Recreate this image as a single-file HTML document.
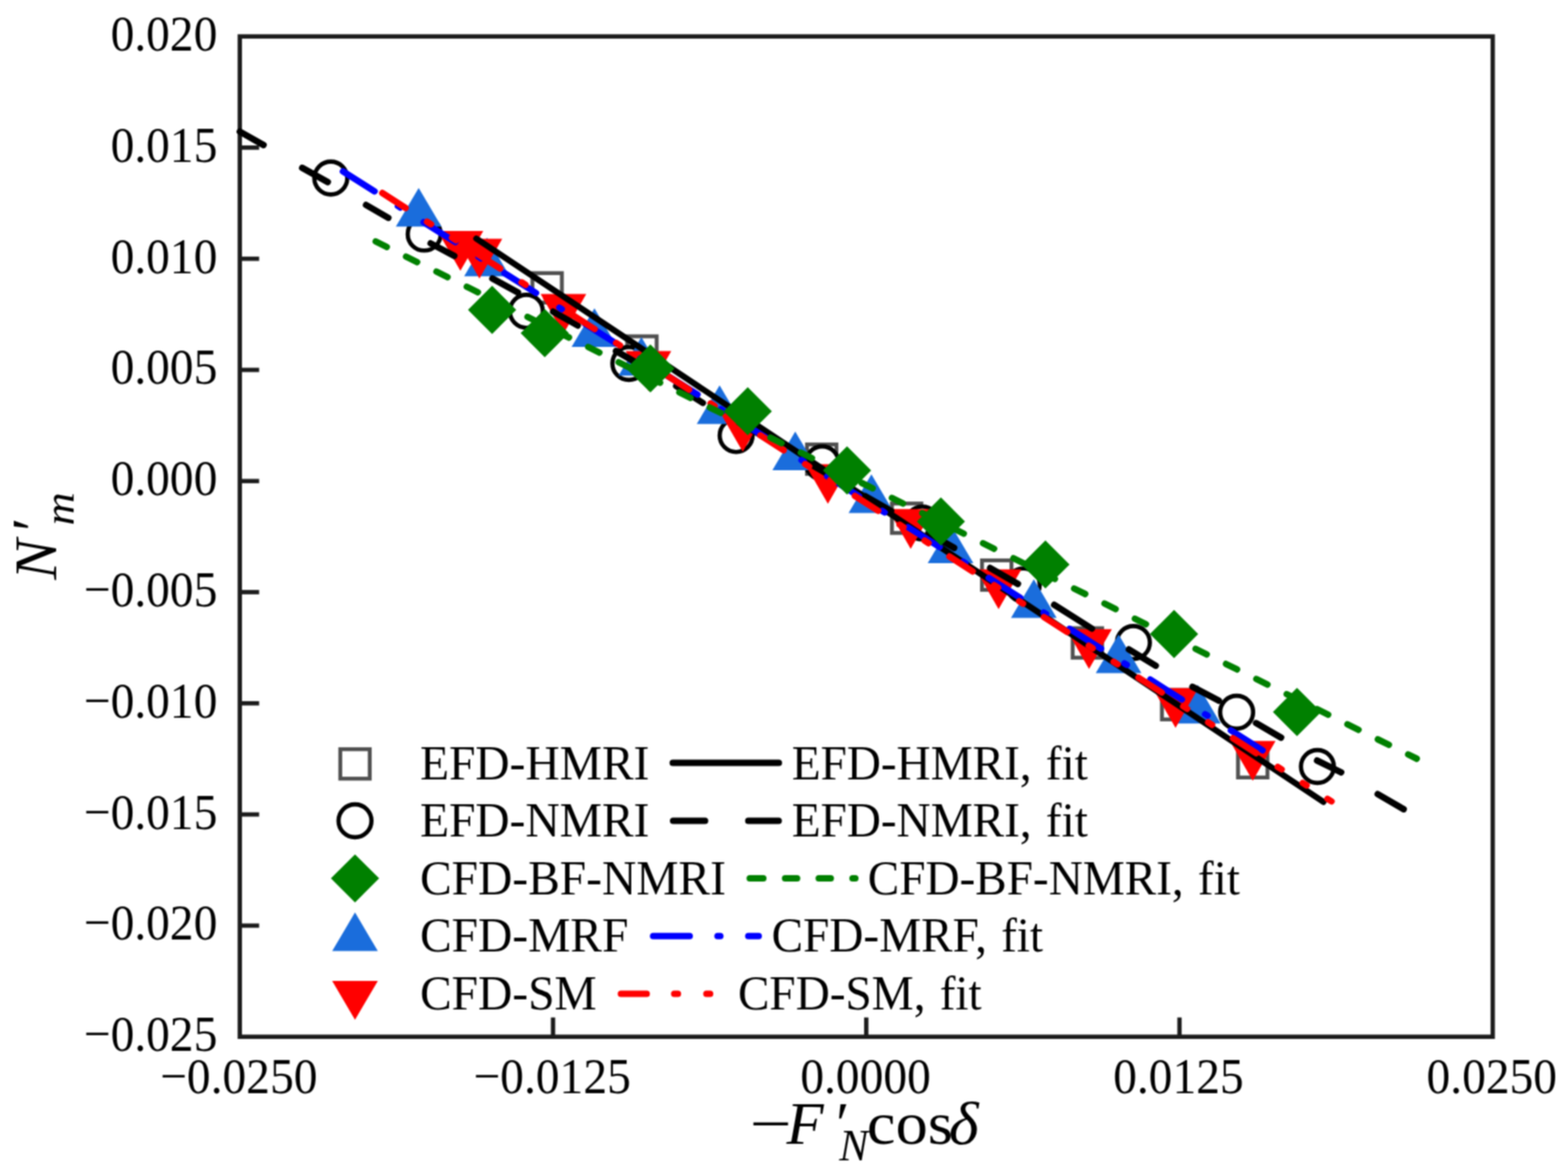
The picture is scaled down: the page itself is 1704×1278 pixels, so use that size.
<!DOCTYPE html>
<html lang="en">
<head>
<meta charset="utf-8">
<title>N'm versus -F'N cos(delta)</title>
<style>
html,body{margin:0;padding:0;background:#fff;}
body{width:1704px;height:1278px;overflow:hidden;}
svg{display:block;}
</style>
</head>
<body>
<svg width="1704" height="1278" viewBox="0 0 1704 1278" role="img" aria-label="Scatter plot of N prime m versus minus F prime N cos delta with linear fits">
<defs><filter id="soft" x="0" y="0" width="1704" height="1278" filterUnits="userSpaceOnUse" color-interpolation-filters="sRGB"><feConvolveMatrix order="3" kernelMatrix="1 2 1 2 4 2 1 2 1" divisor="16" edgeMode="duplicate" preserveAlpha="true"/></filter></defs>
<g filter="url(#soft)">
<rect width="1704" height="1278" fill="#fff"/>
<g stroke="#1c1c1c" stroke-width="4.7" fill="none">
<rect x="260.6" y="39.6" width="1361.6" height="1087.1"/>
<line x1="260.6" y1="160.4" x2="281.6" y2="160.4"/>
<line x1="260.6" y1="281.2" x2="281.6" y2="281.2"/>
<line x1="260.6" y1="402.0" x2="281.6" y2="402.0"/>
<line x1="260.6" y1="522.8" x2="281.6" y2="522.8"/>
<line x1="260.6" y1="643.5" x2="281.6" y2="643.5"/>
<line x1="260.6" y1="764.3" x2="281.6" y2="764.3"/>
<line x1="260.6" y1="885.1" x2="281.6" y2="885.1"/>
<line x1="260.6" y1="1005.9" x2="281.6" y2="1005.9"/>
<line x1="601.0" y1="1126.7" x2="601.0" y2="1105.7"/>
<line x1="941.4" y1="1126.7" x2="941.4" y2="1105.7"/>
<line x1="1281.8" y1="1126.7" x2="1281.8" y2="1105.7"/>
</g>
<g font-family="'Liberation Serif', 'DejaVu Serif', serif" font-size="51.6" fill="#000">
<text x="236.2" y="0" transform="translate(0 55.0) scale(1 1.075)" text-anchor="end">0.020</text>
<text x="236.2" y="0" transform="translate(0 175.8) scale(1 1.075)" text-anchor="end">0.015</text>
<text x="236.2" y="0" transform="translate(0 296.6) scale(1 1.075)" text-anchor="end">0.010</text>
<text x="236.2" y="0" transform="translate(0 417.4) scale(1 1.075)" text-anchor="end">0.005</text>
<text x="236.2" y="0" transform="translate(0 538.2) scale(1 1.075)" text-anchor="end">0.000</text>
<text x="236.2" y="0" transform="translate(0 658.9) scale(1 1.075)" text-anchor="end">−0.005</text>
<text x="236.2" y="0" transform="translate(0 779.7) scale(1 1.075)" text-anchor="end">−0.010</text>
<text x="236.2" y="0" transform="translate(0 900.5) scale(1 1.075)" text-anchor="end">−0.015</text>
<text x="236.2" y="0" transform="translate(0 1021.3) scale(1 1.075)" text-anchor="end">−0.020</text>
<text x="236.2" y="0" transform="translate(0 1142.1) scale(1 1.075)" text-anchor="end">−0.025</text>
<text x="259.5" y="0" transform="translate(0 1188.0) scale(1 1.075)" text-anchor="middle">−0.0250</text>
<text x="600.0" y="0" transform="translate(0 1188.0) scale(1 1.075)" text-anchor="middle">−0.0125</text>
<text x="940.6" y="0" transform="translate(0 1188.0) scale(1 1.075)" text-anchor="middle">0.0000</text>
<text x="1280.6" y="0" transform="translate(0 1188.0) scale(1 1.075)" text-anchor="middle">0.0125</text>
<text x="1621.2" y="0" transform="translate(0 1188.0) scale(1 1.075)" text-anchor="middle">0.0250</text>
</g>
<rect x="578.6" y="296.8" width="32.0" height="32.0" fill="none" stroke="#505050" stroke-width="4.2"/>
<rect x="681.6" y="365.5" width="32.0" height="32.0" fill="none" stroke="#505050" stroke-width="4.2"/>
<rect x="877.0" y="483.0" width="32.0" height="32.0" fill="none" stroke="#505050" stroke-width="4.2"/>
<rect x="969.3" y="547.2" width="32.0" height="32.0" fill="none" stroke="#505050" stroke-width="4.2"/>
<rect x="1067.2" y="609.0" width="32.0" height="32.0" fill="none" stroke="#505050" stroke-width="4.2"/>
<rect x="1165.7" y="682.7" width="32.0" height="32.0" fill="none" stroke="#505050" stroke-width="4.2"/>
<rect x="1262.7" y="749.8" width="32.0" height="32.0" fill="none" stroke="#505050" stroke-width="4.2"/>
<rect x="1345.4" y="812.9" width="32.0" height="32.0" fill="none" stroke="#505050" stroke-width="4.2"/>
<circle cx="359.5" cy="193.5" r="17.9" fill="#fff" stroke="#000" stroke-width="4.6"/>
<circle cx="461.0" cy="254.4" r="17.9" fill="#fff" stroke="#000" stroke-width="4.6"/>
<circle cx="572.0" cy="338.3" r="17.9" fill="#fff" stroke="#000" stroke-width="4.6"/>
<circle cx="683.4" cy="395.0" r="17.9" fill="#fff" stroke="#000" stroke-width="4.6"/>
<circle cx="800.0" cy="473.3" r="17.9" fill="#fff" stroke="#000" stroke-width="4.6"/>
<circle cx="893.5" cy="503.0" r="17.9" fill="#fff" stroke="#000" stroke-width="4.6"/>
<circle cx="1002.4" cy="568.4" r="17.9" fill="#fff" stroke="#000" stroke-width="4.6"/>
<circle cx="1112.0" cy="635.6" r="17.9" fill="#fff" stroke="#000" stroke-width="4.6"/>
<circle cx="1231.7" cy="698.3" r="17.9" fill="#fff" stroke="#000" stroke-width="4.6"/>
<circle cx="1343.9" cy="774.0" r="17.9" fill="#fff" stroke="#000" stroke-width="4.6"/>
<circle cx="1431.7" cy="833.0" r="17.9" fill="#fff" stroke="#000" stroke-width="4.6"/>
<path d="M455.0 204.2L479.8 246.2L430.2 246.2Z" fill="#1a6ddc"/>
<path d="M529.2 258.2L554.0 300.2L504.4 300.2Z" fill="#1a6ddc"/>
<path d="M646.0 335.0L670.8 377.0L621.2 377.0Z" fill="#1a6ddc"/>
<path d="M697.0 366.2L721.8 408.2L672.2 408.2Z" fill="#1a6ddc"/>
<path d="M782.0 418.7L806.8 460.7L757.2 460.7Z" fill="#1a6ddc"/>
<path d="M864.2 469.0L889.0 511.0L839.4 511.0Z" fill="#1a6ddc"/>
<path d="M947.0 515.6L971.8 557.6L922.2 557.6Z" fill="#1a6ddc"/>
<path d="M1033.0 570.0L1057.8 612.0L1008.2 612.0Z" fill="#1a6ddc"/>
<path d="M1123.5 629.6L1148.3 671.6L1098.7 671.6Z" fill="#1a6ddc"/>
<path d="M1215.6 689.4L1240.4 731.4L1190.8 731.4Z" fill="#1a6ddc"/>
<path d="M1301.7 744.2L1326.5 786.2L1276.9 786.2Z" fill="#1a6ddc"/>
<path d="M500.3 294.3L525.1 251.1L475.5 251.1Z" fill="#ff0000"/>
<path d="M521.0 302.7L545.8 259.5L496.2 259.5Z" fill="#ff0000"/>
<path d="M612.3 362.8L637.1 319.6L587.5 319.6Z" fill="#ff0000"/>
<path d="M704.7 424.8L729.5 381.6L679.9 381.6Z" fill="#ff0000"/>
<path d="M807.2 491.1L832.0 447.9L782.4 447.9Z" fill="#ff0000"/>
<path d="M899.7 547.6L924.5 504.4L874.9 504.4Z" fill="#ff0000"/>
<path d="M989.7 596.5L1014.5 553.3L964.9 553.3Z" fill="#ff0000"/>
<path d="M1085.2 662.0L1110.0 618.8L1060.4 618.8Z" fill="#ff0000"/>
<path d="M1183.5 727.0L1208.3 683.8L1158.7 683.8Z" fill="#ff0000"/>
<path d="M1277.5 791.0L1302.3 747.8L1252.7 747.8Z" fill="#ff0000"/>
<path d="M1361.4 848.4L1386.2 805.2L1336.6 805.2Z" fill="#ff0000"/>
<line x1="517.6" y1="259.3" x2="1438.3" y2="871.4" stroke="#000" stroke-width="6.6" stroke-linecap="round"/>
<line x1="260.6" y1="143.0" x2="286.4" y2="157.6" stroke="#000" stroke-width="7.0" stroke-linecap="round"/>
<line x1="328.4" y1="182.4" x2="356.2" y2="197.9" stroke="#000" stroke-width="7.0" stroke-linecap="round"/>
<line x1="397.8" y1="222.7" x2="422.0" y2="236.7" stroke="#000" stroke-width="7.0" stroke-linecap="round"/>
<line x1="468.0" y1="264.5" x2="493.7" y2="278.2" stroke="#000" stroke-width="7.0" stroke-linecap="round"/>
<line x1="535.1" y1="302.7" x2="562.9" y2="317.8" stroke="#000" stroke-width="7.0" stroke-linecap="round"/>
<line x1="601.1" y1="338.7" x2="627.9" y2="353.8" stroke="#000" stroke-width="7.0" stroke-linecap="round"/>
<line x1="669.4" y1="381.4" x2="697.4" y2="397.6" stroke="#000" stroke-width="7.0" stroke-linecap="round"/>
<line x1="734.9" y1="419.5" x2="763.8" y2="437.9" stroke="#000" stroke-width="7.0" stroke-linecap="round"/>
<line x1="803.4" y1="459.3" x2="831.4" y2="475.5" stroke="#000" stroke-width="7.0" stroke-linecap="round"/>
<line x1="871.9" y1="499.3" x2="899.9" y2="515.5" stroke="#000" stroke-width="7.0" stroke-linecap="round"/>
<line x1="940.4" y1="539.2" x2="968.4" y2="555.4" stroke="#000" stroke-width="7.0" stroke-linecap="round"/>
<line x1="1008.9" y1="579.2" x2="1036.9" y2="595.4" stroke="#000" stroke-width="7.0" stroke-linecap="round"/>
<line x1="1076.0" y1="617.2" x2="1106.2" y2="634.6" stroke="#000" stroke-width="7.0" stroke-linecap="round"/>
<line x1="1145.6" y1="657.3" x2="1186.6" y2="683.1" stroke="#000" stroke-width="7.0" stroke-linecap="round"/>
<line x1="1226.8" y1="705.8" x2="1256.0" y2="723.4" stroke="#000" stroke-width="7.0" stroke-linecap="round"/>
<line x1="1295.9" y1="746.4" x2="1324.5" y2="761.4" stroke="#000" stroke-width="7.0" stroke-linecap="round"/>
<line x1="1365.0" y1="785.8" x2="1392.2" y2="801.6" stroke="#000" stroke-width="7.0" stroke-linecap="round"/>
<line x1="1431.3" y1="826.5" x2="1457.5" y2="839.3" stroke="#000" stroke-width="7.0" stroke-linecap="round"/>
<line x1="1497.2" y1="863.0" x2="1525.4" y2="879.4" stroke="#000" stroke-width="7.0" stroke-linecap="round"/>
<line x1="372.7" y1="186.3" x2="1373.5" y2="816.3" stroke="#0000ff" stroke-width="7.0" stroke-linecap="round" stroke-dasharray="40.6 30 3 30.06" stroke-dashoffset="0"/>
<line x1="415.5" y1="209.8" x2="1447.0" y2="870.9" stroke="#ff0000" stroke-width="7.0" stroke-linecap="round" stroke-dasharray="30 27.8 5 27.2 5 27" stroke-dashoffset="0"/>
<path d="M534.8 310.6L561.0 336.8L534.8 363.0L508.6 336.8Z" fill="#008000"/>
<path d="M592.0 335.8L618.2 362.0L592.0 388.2L565.8 362.0Z" fill="#008000"/>
<path d="M706.8 374.2L733.0 400.4L706.8 426.6L680.6 400.4Z" fill="#008000"/>
<path d="M812.6 420.7L838.8 446.9L812.6 473.1L786.4 446.9Z" fill="#008000"/>
<path d="M920.5 485.0L946.7 511.2L920.5 537.4L894.3 511.2Z" fill="#008000"/>
<path d="M1022.5 540.5L1048.7 566.7L1022.5 592.9L996.3 566.7Z" fill="#008000"/>
<path d="M1136.1 587.2L1162.3 613.4L1136.1 639.6L1109.9 613.4Z" fill="#008000"/>
<path d="M1275.9 662.8L1302.1 689.0L1275.9 715.2L1249.7 689.0Z" fill="#008000"/>
<path d="M1409.5 747.5L1435.7 773.7L1409.5 799.9L1383.3 773.7Z" fill="#008000"/>
<line x1="408.3" y1="262.4" x2="1539.6" y2="824.5" stroke="#008000" stroke-width="7.0" stroke-linecap="round" stroke-dasharray="13.4 23.45" stroke-dashoffset="0"/>
<rect x="369.8" y="814.2" width="32.0" height="32.0" fill="none" stroke="#505050" stroke-width="4.2"/>
<circle cx="385.8" cy="892.0" r="17.9" fill="none" stroke="#000" stroke-width="4.6"/>
<path d="M385.8 928.4L412.0 954.6L385.8 980.8L359.6 954.6Z" fill="#008000"/>
<path d="M385.8 991.6L410.6 1033.6L361.0 1033.6Z" fill="#1a6ddc"/>
<path d="M385.8 1108.2L410.6 1066.0L361.0 1066.0Z" fill="#ff0000"/>
<line x1="731.1" y1="828.9" x2="846.4" y2="828.9" stroke="#000" stroke-width="7.0" stroke-linecap="round"/>
<line x1="731.5" y1="892.0" x2="766.2" y2="892.0" stroke="#000" stroke-width="7.0" stroke-linecap="round"/>
<line x1="813.2" y1="892.0" x2="846.2" y2="892.0" stroke="#000" stroke-width="7.0" stroke-linecap="round"/>
<line x1="814.8" y1="954.6" x2="829.5" y2="954.6" stroke="#008000" stroke-width="7.0" stroke-linecap="round"/>
<line x1="853.2" y1="954.6" x2="866.2" y2="954.6" stroke="#008000" stroke-width="7.0" stroke-linecap="round"/>
<line x1="889.8" y1="954.6" x2="902.8" y2="954.6" stroke="#008000" stroke-width="7.0" stroke-linecap="round"/>
<line x1="926.5" y1="954.6" x2="929.5" y2="954.6" stroke="#008000" stroke-width="7.0" stroke-linecap="round"/>
<line x1="709.8" y1="1017.2" x2="749.5" y2="1017.2" stroke="#0000ff" stroke-width="7.0" stroke-linecap="round"/>
<line x1="779.8" y1="1017.2" x2="782.8" y2="1017.2" stroke="#0000ff" stroke-width="7.0" stroke-linecap="round"/>
<line x1="813.2" y1="1017.2" x2="824.5" y2="1017.2" stroke="#0000ff" stroke-width="7.0" stroke-linecap="round"/>
<line x1="674.8" y1="1080.0" x2="702.8" y2="1080.0" stroke="#ff0000" stroke-width="7.0" stroke-linecap="round"/>
<line x1="732.7" y1="1080.0" x2="736.7" y2="1080.0" stroke="#ff0000" stroke-width="7.0" stroke-linecap="round"/>
<line x1="767.7" y1="1080.0" x2="771.7" y2="1080.0" stroke="#ff0000" stroke-width="7.0" stroke-linecap="round"/>
<g font-family="'Liberation Serif', 'DejaVu Serif', serif" font-size="51.3" fill="#000" word-spacing="2.6">
<text x="456.4" y="0" transform="translate(0 846.6) scale(1 1.04)" font-size="51.6">EFD-HMRI</text>
<text x="860.4" y="0" transform="translate(0 846.6) scale(1 1.04)">EFD-HMRI, fit</text>
<text x="456.4" y="0" transform="translate(0 909.0) scale(1 1.04)" font-size="51.6">EFD-NMRI</text>
<text x="860.4" y="0" transform="translate(0 909.0) scale(1 1.04)">EFD-NMRI, fit</text>
<text x="456.4" y="0" transform="translate(0 971.6) scale(1 1.04)" font-size="51.6">CFD-BF-NMRI</text>
<text x="943.0" y="0" transform="translate(0 971.6) scale(1 1.04)">CFD-BF-NMRI, fit</text>
<text x="456.4" y="0" transform="translate(0 1034.2) scale(1 1.04)" font-size="51.6">CFD-MRF</text>
<text x="838.6" y="0" transform="translate(0 1034.2) scale(1 1.04)">CFD-MRF, fit</text>
<text x="456.4" y="0" transform="translate(0 1097.0) scale(1 1.04)" font-size="51.6">CFD-SM</text>
<text x="801.9" y="0" transform="translate(0 1097.0) scale(1 1.04)">CFD-SM, fit</text>
</g>
<g font-family="'Liberation Serif', 'DejaVu Serif', serif" font-size="66" fill="#000">
<text y="1243"><tspan x="814.8" textLength="45.6" lengthAdjust="spacingAndGlyphs">−</tspan><tspan x="854.8" font-style="italic">F</tspan><tspan x="904.5" font-style="italic">′</tspan><tspan x="912.1" dy="18" font-style="italic" font-size="47.5">N</tspan><tspan x="942.1" dy="-18" textLength="93.5" lengthAdjust="spacingAndGlyphs">cos</tspan><tspan x="1030.9" font-style="italic" textLength="32.5" lengthAdjust="spacingAndGlyphs">δ</tspan></text>
<text transform="translate(61.0 630) rotate(-90)"><tspan x="0" font-style="italic">N</tspan><tspan x="49" dy="-3" font-style="italic">′</tspan><tspan x="59" dy="22" font-style="italic" font-size="46" textLength="36" lengthAdjust="spacingAndGlyphs">m</tspan></text>
</g>
</g>
</svg>
</body>
</html>
